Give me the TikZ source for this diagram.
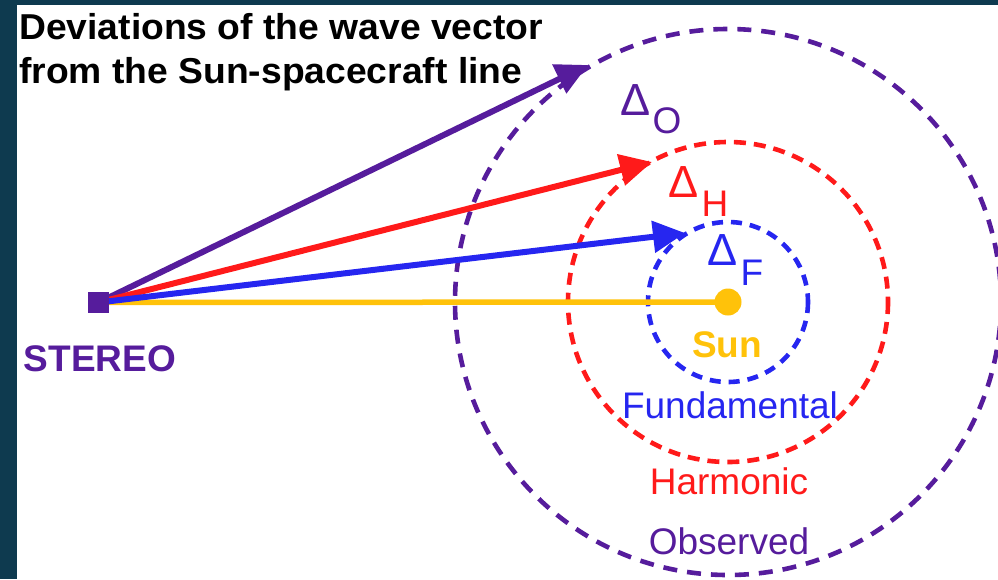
\documentclass[tikz,border=0pt]{standalone}
\usepackage{fontspec}
\setmainfont{Liberation Sans}
\usetikzlibrary{arrows.meta}
\definecolor{obs}{HTML}{561C9C}
\definecolor{harm}{HTML}{FF1A1A}
\definecolor{fund}{HTML}{2626F0}
\definecolor{sunc}{HTML}{FFC20A}
\definecolor{framec}{HTML}{0E3A4F}
\tikzset{
  orbit/.style={line width=4.6pt},
  vec/.style={line width=6pt,-{Triangle[length=32pt,width=31pt]}},
  lab/.style={inner sep=0pt,font=\fontsize{37}{44}\selectfont},
  blab/.style={inner sep=0pt,font=\fontsize{37}{44}\selectfont\bfseries},
  dlab/.style={inner sep=0pt,font=\fontsize{45}{52}\selectfont},
  slab/.style={inner sep=0pt,font=\fontsize{37}{44}\selectfont},
}
\begin{document}
\begin{tikzpicture}[x=1pt,y=-1pt]
\fill[framec] (0,0) rectangle (998,579);
\fill[white] (17,5) rectangle (998,579);
\useasboundingbox (0,0) rectangle (998,579);

\coordinate (sunc) at (728,302);
% orbits
\draw[orbit,obs,dash pattern=on 14pt off 10pt] (sunc) circle[radius=273];
\draw[orbit,harm,dash pattern=on 12pt off 8pt] (sunc) circle[radius=160];
\draw[orbit,fund,dash pattern=on 11pt off 8pt] (sunc) circle[radius=80];

% spacecraft and sun
\node[fill=obs,minimum size=21pt,inner sep=0pt] (st) at (98.5,302.5) {};
\coordinate (tipO) at (588,65);
\coordinate (tipH) at (652,162);
\coordinate (tipF) at (685,233);
\draw[line width=5.5pt,sunc] (st.center) -- (sunc);
\draw[vec,obs] (st.center) -- (tipO);
\draw[vec,harm] (st.center) -- (tipH);
\draw[vec,fund] (st.center) -- (tipF);
\fill[obs] (st.south west) rectangle (st.north east);
\node[circle,fill=sunc,minimum size=27pt,inner sep=0pt] (sun) at (sunc) {};

% title
\node[anchor=base west,inner sep=0pt,font=\fontsize{36}{43}\selectfont\bfseries,xscale=1.035] (t1) at (19,39) {Deviations of the wave vector};
\node[anchor=base west,inner sep=0pt,font=\fontsize{36}{43}\selectfont\bfseries,xscale=1.035] (t2) at (19,83) {from the Sun-spacecraft line};

% labels
\node[blab,text=obs] (stlab) at (100,359) {STEREO};
\node[blab,text=sunc] (sunlab) at (727,345) {Sun};
\node[lab,text=fund] (flab) at (730,405) {Fundamental};
\node[lab,text=harm] (hlab) at (729,481) {Harmonic};
\node[lab,text=obs] (olab) at (729,541) {Observed};

% deltas
\node[dlab,text=obs] (dO) at (636,100) {Δ};
\node[slab,text=obs] (dOs) at (667,121) {O};
\node[dlab,text=harm] (dH) at (684,182) {Δ};
\node[slab,text=harm] (dHs) at (715,204) {H};
\node[dlab,text=fund] (dF) at (723,250) {Δ};
\node[slab,text=fund] (dFs) at (752,273) {F};
\end{tikzpicture}
\end{document}
